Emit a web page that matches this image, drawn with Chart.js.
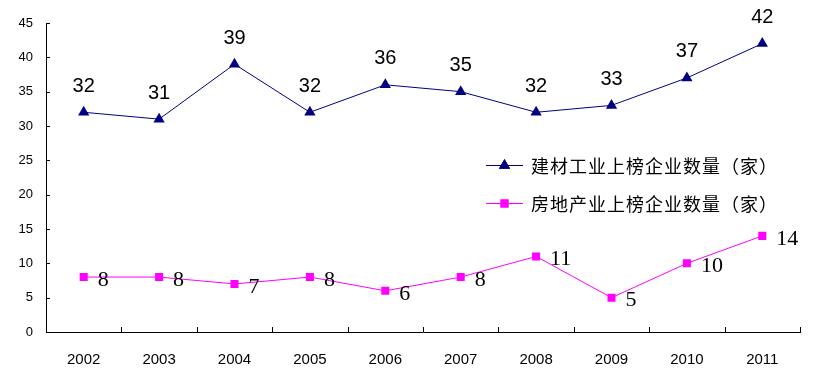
<!DOCTYPE html>
<html><head><meta charset="utf-8">
<script src="https://cdn.jsdelivr.net/npm/chart.js@4/dist/chart.umd.min.js"></script>
<style>html,body{margin:0;padding:0;background:#fff}#wrap{width:838px;height:381px}</style>
</head><body><div id="wrap"><canvas id="c" width="838" height="381"></canvas></div>
<script>
const years = ['2002','2003','2004','2005','2006','2007','2008','2009','2010','2011'];
const buildingMaterials = [32,31,39,32,36,35,32,33,37,42];
const realEstate = [8,8,7,8,6,8,11,5,10,14];
const seriesNames = ['建材工业上榜企业数量（家）','房地产业上榜企业数量（家）'];
const yMin = 0, yMax = 45, yStep = 5;

const NAVY = '#000080', MAGENTA = '#FF00FF';

const decor = {
  id: 'decor',
  afterDraw(chart) {
    const ctx = chart.ctx, x = chart.scales.x, y = chart.scales.y;
    const area = chart.chartArea;
    ctx.save();
    ctx.strokeStyle = '#000'; ctx.lineWidth = 1;
    // y ticks (inward)
    for (let v = yMin; v <= yMax; v += yStep) {
      const py = Math.round(y.getPixelForValue(v)) + 0.5;
      ctx.beginPath(); ctx.moveTo(area.left, py); ctx.lineTo(area.left + 4, py); ctx.stroke();
    }
    // x ticks (inward, at category boundaries)
    const n = years.length;
    for (let i = 0; i <= n; i++) {
      const px = Math.round(x.getPixelForValue(i - 0.5)) + 0.5;
      ctx.beginPath(); ctx.moveTo(px, area.bottom); ctx.lineTo(px, area.bottom - 5); ctx.stroke();
    }
    // data labels
    ctx.fillStyle = '#000';
    const m0 = chart.getDatasetMeta(0), m1 = chart.getDatasetMeta(1);
    ctx.font = '20px "Liberation Sans", Arial, sans-serif';
    ctx.textAlign = 'center'; ctx.textBaseline = 'middle';
    m0.data.forEach((p, i) => ctx.fillText(String(buildingMaterials[i]), p.x, p.y - 26));
    ctx.font = '22px "Liberation Serif", "Times New Roman", serif';
    ctx.textAlign = 'left';
    m1.data.forEach((p, i) => ctx.fillText(String(realEstate[i]), p.x + 14, p.y + 3));
    // legend
    const items = [
      {c: NAVY, s: 'triangle', r: 6.5, y: 165, t: seriesNames[0]},
      {c: MAGENTA, s: 'rect', r: 5.7, y: 203, t: seriesNames[1]}
    ];
    ctx.font = '18px "Noto Sans CJK SC", sans-serif';
    ctx.textBaseline = 'middle';
    try { ctx.letterSpacing = '1px'; } catch(e) {}
    items.forEach(it => {
      ctx.strokeStyle = it.c; ctx.fillStyle = it.c; ctx.lineWidth = 1;
      ctx.beginPath(); ctx.moveTo(486, it.y + 0.5); ctx.lineTo(523, it.y + 0.5); ctx.stroke();
      Chart.helpers.drawPoint(ctx, {pointStyle: it.s, radius: it.r, rotation: 0, borderWidth: 0}, 504.5, it.y + 0.5);
      ctx.fill();
      ctx.fillStyle = '#000';
      ctx.fillText(it.t, 531, it.y + 1);
    });
    ctx.restore();
  }
};

new Chart(document.getElementById('c'), {
  type: 'line',
  data: {
    labels: years,
    datasets: [
      {label: seriesNames[0], data: buildingMaterials, borderColor: NAVY, backgroundColor: NAVY,
       borderWidth: 1, pointStyle: 'triangle', pointRadius: 6.5, pointBorderWidth: 0, tension: 0},
      {label: seriesNames[1], data: realEstate, borderColor: MAGENTA, backgroundColor: MAGENTA,
       borderWidth: 1, pointStyle: 'rect', pointRadius: 5.7, pointBorderWidth: 0, tension: 0}
    ]
  },
  options: {
    responsive: false, animation: false, devicePixelRatio: 1,
    layout: {padding: {top: 23, right: 38, left: 0, bottom: 0}},
    plugins: {legend: {display: false}, tooltip: {enabled: false}},
    scales: {
      x: {
        offset: true,
        grid: {display: false, drawTicks: false},
        border: {display: true, color: '#000', width: 1},
        ticks: {color: '#000', font: {size: 15, family: '"Liberation Sans", Arial'}, padding: 19, maxRotation: 0},
        afterFit: s => { s.height = 49; }
      },
      y: {
        min: yMin, max: yMax,
        grid: {display: false, drawTicks: false},
        border: {display: true, color: '#000', width: 1},
        ticks: {stepSize: yStep, color: '#000', font: {size: 13, family: '"Liberation Sans", Arial'}, padding: 13},
        afterFit: s => { s.width = 46; }
      }
    }
  },
  plugins: [decor]
});
</script></body></html>
